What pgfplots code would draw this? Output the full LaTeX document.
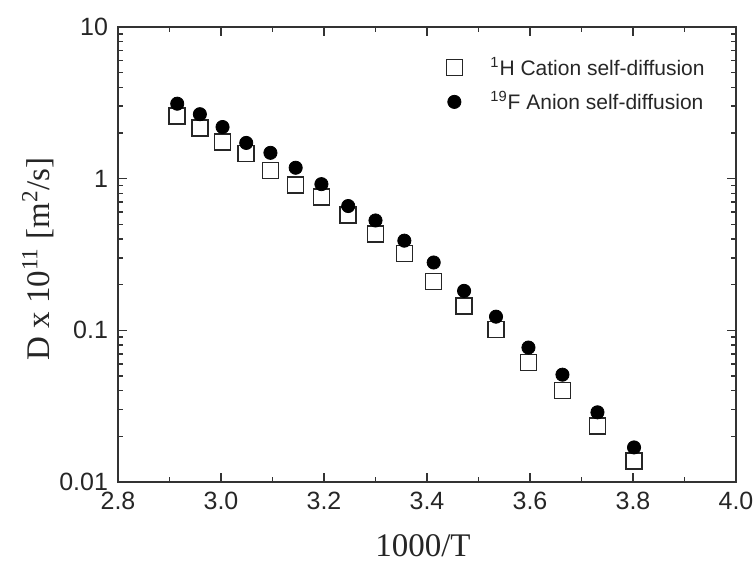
\documentclass[border=0pt]{standalone}
\usepackage{fontspec}
\setmainfont{Liberation Sans}
\newfontfamily\timesfont{Liberation Serif}
\usepackage{pgfplots}
\usepackage{pgfplotstable}
\pgfplotsset{compat=1.18}

% 1000/T, D x 10^11 (m^2/s)
\pgfplotstableread{
x     D
2.915 2.58
2.959 2.15
3.003 1.75
3.049 1.47
3.096 1.13
3.145 0.905
3.195 0.755
3.247 0.577
3.300 0.430
3.356 0.320
3.413 0.210
3.472 0.145
3.534 0.101
3.597 0.0612
3.663 0.0401
3.731 0.0234
3.802 0.0138
}\cation

\pgfplotstableread{
x     D
2.915 3.12
2.959 2.66
3.003 2.19
3.049 1.72
3.096 1.48
3.145 1.18
3.195 0.920
3.247 0.660
3.300 0.530
3.356 0.390
3.413 0.280
3.472 0.182
3.534 0.123
3.597 0.0770
3.663 0.0510
3.731 0.0288
3.802 0.0169
}\anion

\begin{document}
\begin{tikzpicture}
\begin{axis}[
width=309pt,
height=227.5pt,
scale only axis,
ymode=log,
xmin=2.8, xmax=4.0,
ymin=0.01, ymax=10,
xtick={2.8,3.0,3.2,3.4,3.6,3.8,4.0},
minor x tick num=1,
ytick={0.01,0.1,1,10},
yticklabels={0.01,0.1,1,10},
xticklabel style={/pgf/number format/fixed,/pgf/number format/fixed zerofill,/pgf/number format/precision=1,yshift=-1.5pt},
/pgf/number format/assume math mode=true,
yticklabel style={xshift=-1.5pt},
tick label style={font=\fontsize{12.5}{14}\selectfont, text=black!85},
tick align=inside,
major tick length=4.5pt,
minor tick length=2.5pt,
axis line style={black!80, line width=0.9pt},
every tick/.style={black!80, line width=0.8pt},
xlabel={1000/T},
ylabel={D x 10\textsuperscript{11} [m\textsuperscript{2}/s]},
label style={font=\timesfont\fontsize{16.5}{18}\selectfont, text=black!85},
xlabel style={at={(axis description cs:0.4935,-0.1407)}, anchor=center},
ylabel style={at={(axis description cs:-0.129,0.49)}, anchor=center},
legend style={draw=none, fill=none, at={(axis description cs:0.966,0.952)}, anchor=north east,
  font=\fontsize{10.5}{12.5}\selectfont, column sep=12pt, row sep=2.5pt, text=black!85},
legend cell align=left,
]
\addplot[only marks, mark=square, mark size=4pt, mark options={black!85, line width=0.75pt, fill=white}] table[x=x,y=D] {\cation};
\addlegendentry{\textsuperscript{1}H Cation self-diffusion}
\addplot[only marks, mark=*, mark size=3.3pt, mark options={black, fill=black}] table[x=x,y=D] {\anion};
\addlegendentry{\textsuperscript{19}F Anion self-diffusion}
\end{axis}
\pgfresetboundingbox
\useasboundingbox (-59pt,-41.5pt) rectangle (319pt,241pt);
\end{tikzpicture}
\end{document}
